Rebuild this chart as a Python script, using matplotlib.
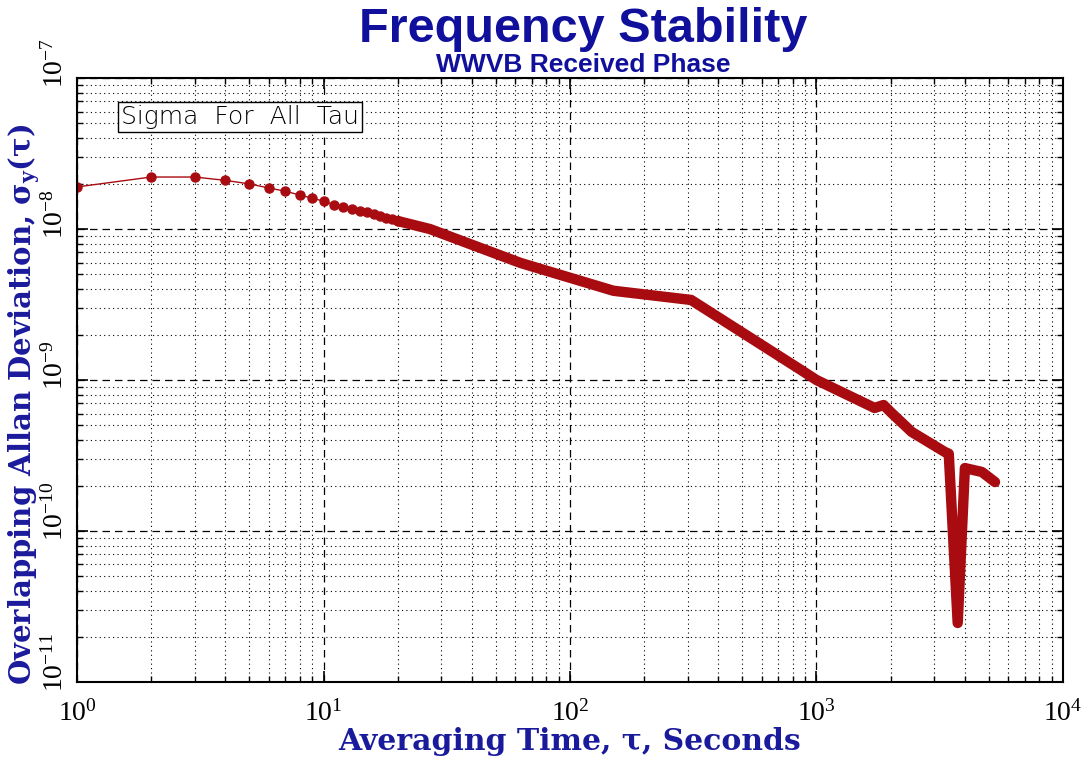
import matplotlib
matplotlib.use("Agg")
import matplotlib.pyplot as plt
from matplotlib.ticker import NullFormatter, FixedLocator
from matplotlib.transforms import ScaledTranslation

plt.rcParams['font.family'] = ['Liberation Serif', 'DejaVu Serif']
plt.rcParams['mathtext.fontset'] = 'dejavuserif'
plt.rcParams['axes.unicode_minus'] = False

# discrete markers (tau = 1..20)
tau_pts = [1, 2, 3, 4, 5, 6, 7, 8, 9, 10, 11, 12, 13, 14, 15, 16, 17, 18, 19, 20]
sig_pts = [1.90e-8, 2.21e-8, 2.21e-8, 2.10e-8, 1.99e-8, 1.87e-8, 1.78e-8, 1.68e-8,
           1.60e-8, 1.53e-8, 1.45e-8, 1.40e-8, 1.36e-8, 1.32e-8, 1.29e-8, 1.25e-8,
           1.22e-8, 1.19e-8, 1.16e-8, 1.13e-8]

# dense part where markers merge into a thick trace
tau_tail = [20, 27, 63, 150, 310, 869, 1000, 1720, 1872, 2018, 2434, 3314, 3440,
            3740, 4000, 4690, 5300]
sig_tail = [1.13e-8, 1.00e-8, 5.96e-9, 3.90e-9, 3.39e-9, 1.16e-9, 1.00e-9, 6.53e-10,
            6.83e-10, 6.04e-10, 4.53e-10, 3.34e-10, 3.25e-10,
            2.46e-11, 2.61e-10, 2.46e-10, 2.11e-10]

x_ticks = [1, 10, 100, 1000, 10000]
y_ticks = [1e-11, 1e-10, 1e-9, 1e-8, 1e-7]

red = '#a80c10'
navy = '#1a1a9c'

fig = plt.figure(figsize=(10.88, 7.62), dpi=100)
ax = fig.add_axes([0.0708, 0.105, 0.9062, 0.7926])

ax.plot(tau_pts, sig_pts, '-', color=red, lw=1.0)
ax.plot(tau_pts, sig_pts, 'o', color=red, ms=6.5, mec=red)
ax.plot(tau_tail, sig_tail, '-', color=red, lw=7.5,
        solid_capstyle='round', solid_joinstyle='round')

ax.set_xscale('log')
ax.set_yscale('log')
ax.set_xlim(1, 1e4)
ax.set_ylim(1e-11, 1e-7)
ax.set_xticks(x_ticks)
ax.set_yticks(y_ticks)

# minor ticks 2..9 within every decade
x_minor = [m * d for d in x_ticks[:-1] for m in range(2, 10)]
y_minor = [m * d for d in y_ticks[:-1] for m in range(2, 10)]
ax.xaxis.set_minor_locator(FixedLocator(x_minor))
ax.yaxis.set_minor_locator(FixedLocator(y_minor))
ax.xaxis.set_minor_formatter(NullFormatter())
ax.yaxis.set_minor_formatter(NullFormatter())

ax.grid(which='major', color='black', linestyle=(0, (6, 4)), lw=0.9)
ax.grid(which='minor', color='black', linestyle=(0, (1, 3)), lw=0.8)
ax.set_axisbelow(True)

ax.tick_params(which='both', direction='in', top=True, right=True)
ax.tick_params(which='major', length=8, width=1.2, labelsize=20)
ax.tick_params(axis='x', which='major', pad=13)
ax.tick_params(axis='y', which='major', pad=6)
ax.tick_params(which='minor', length=4, width=1)
shift = ScaledTranslation(0, -10 / 100, fig.dpi_scale_trans)
for lab in ax.get_yticklabels():
    lab.set_rotation(90)
    lab.set_va('bottom')
    lab.set_transform(lab.get_transform() + shift)
for sp in ax.spines.values():
    sp.set_linewidth(1.5)

ax.set_xlabel('Averaging Time, τ, Seconds', family='DejaVu Serif',
              fontsize=21.5, color=navy, fontweight='bold')
ax.set_ylabel(r'Overlapping Allan Deviation, σ$_\mathbf{y}$(τ)', family='DejaVu Serif',
              fontsize=21, color=navy, fontweight='bold')
ax.yaxis.set_label_coords(-0.036, 0.46)
ax.xaxis.set_label_coords(0.5, -0.074)

fig.text(0.536, 0.945, 'Frequency Stability', ha='center', va='baseline',
         family='Liberation Sans', fontsize=35, fontweight='bold', color='#10109c')
fig.text(0.536, 0.9055, 'WWVB Received Phase', ha='center', va='baseline',
         family='Liberation Sans', fontsize=19, fontweight='bold', color='#10109c')

ax.text(0.0445, 0.935, 'Sigma  For  All  Tau', transform=ax.transAxes, ha='left', va='center',
        family='DejaVu Sans', fontsize=18, fontweight='light',
        bbox=dict(boxstyle='square,pad=0.12', fc='white', ec='black', lw=1))

fig.savefig('out.png', dpi=100, facecolor='white')
